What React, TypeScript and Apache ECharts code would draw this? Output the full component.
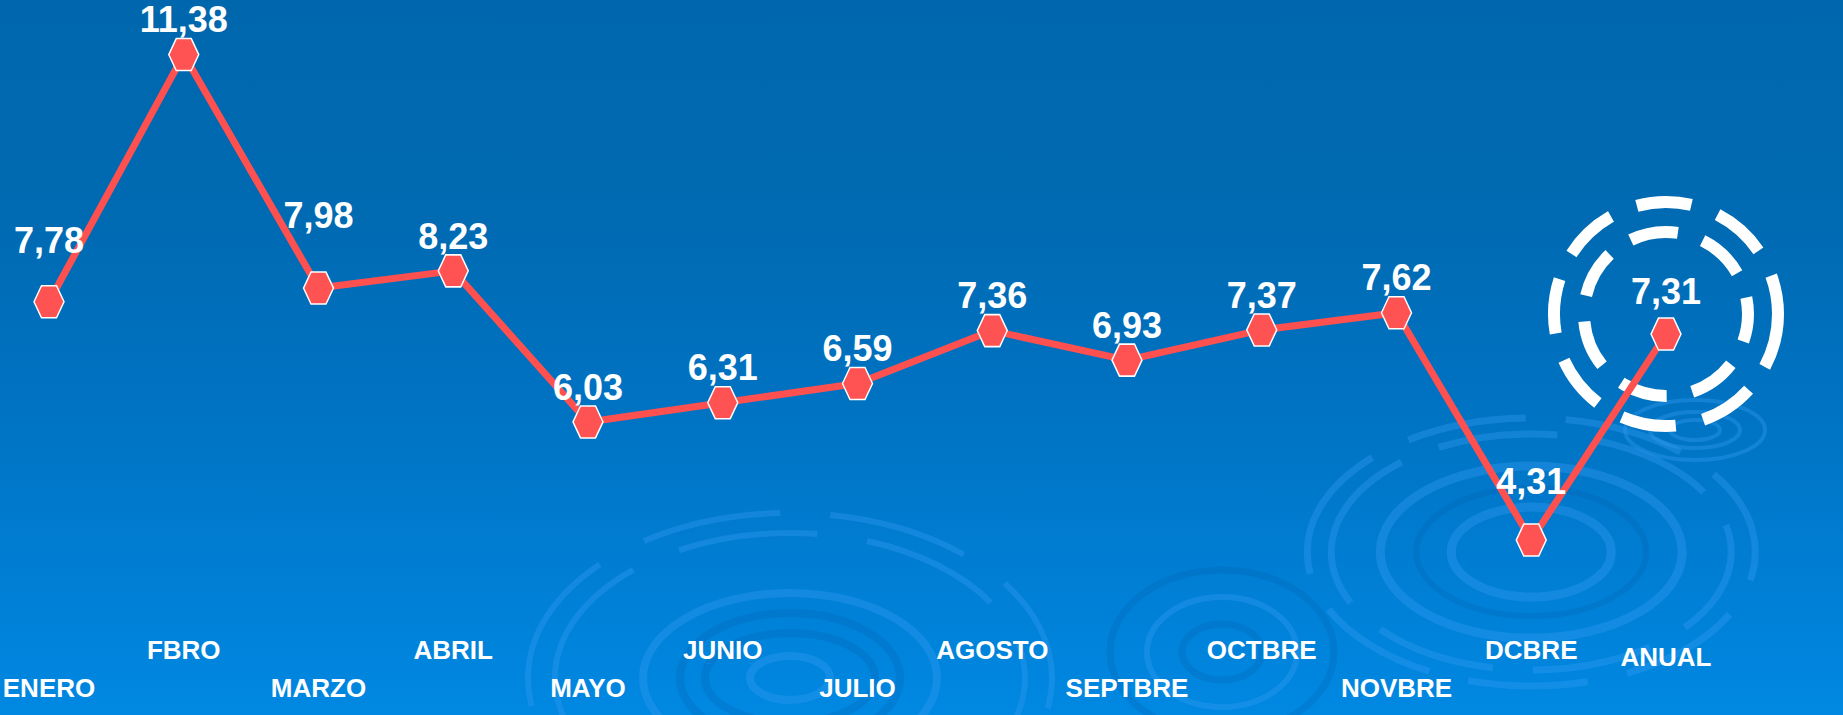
import React, { useEffect, useRef } from "react";
import * as echarts from "echarts";

// Categories (x axis) and the monthly rates written on the chart
const months = [
  "ENERO", "FBRO", "MARZO", "ABRIL", "MAYO", "JUNIO", "JULIO",
  "AGOSTO", "SEPTBRE", "OCTBRE", "NOVBRE", "DCBRE", "ANUAL",
];
const rates = [7.78, 11.38, 7.98, 8.23, 6.03, 6.31, 6.59, 7.36, 6.93, 7.37, 7.62, 4.31, 7.31];

// hidden value-axis range
const yMin = 3;
const yMax = 12;

const W = 1843;
const H = 715;
const FONT = "'Liberation Sans', Arial, 'DejaVu Sans', sans-serif";

export default function App() {
  const ref = useRef<HTMLDivElement>(null);

  useEffect(() => {
    document.body.style.margin = "0";
    const chart = echarts.init(ref.current!, null, { renderer: "svg", width: W, height: H });
    const last = months.length - 1;
    const labelLift: Record<number, number> = { 0: 26, 2: 38, 11: 24, 12: 8 };
    const hexagon = "path://M0,50 L25,0 L75,0 L100,50 L75,100 L25,100 Z";

    const catStyle = { fontSize: 26, fontWeight: "bold", color: "#ffffff", fontFamily: FONT, lineHeight: 30 };

    chart.setOption({
      animation: false,
      backgroundColor: "transparent",
      grid: { left: 49, right: 177, top: 12, bottom: 85, outerBoundsMode: "none" },
      xAxis: {
        type: "category",
        data: months,
        boundaryGap: false,
        axisLine: { show: false },
        axisTick: { show: false },
        splitLine: { show: false },
        axisLabel: {
          interval: 0,
          margin: 5,
          formatter: (v: string, i: number) =>
            i === last ? `{an|${v}}` : i % 2 === 1 ? `{hi|${v}}` : `{lo|${v}}`,
          rich: {
            hi: { ...catStyle },
            lo: { ...catStyle, padding: [76, 0, 0, 0] },
            an: { ...catStyle, padding: [14, 0, 0, 0] },
          },
        },
      },
      yAxis: { type: "value", min: yMin, max: yMax, show: false, splitLine: { show: false } },
      series: [
        {
          type: "line",
          z: 5,
          data: rates.map((v, i) => ({
            value: v,
            label: labelLift[i] !== undefined ? { distance: labelLift[i] } : undefined,
          })),
          symbol: hexagon,
          symbolSize: [30, 32],
          showAllSymbol: true,
          lineStyle: { color: "#ff5050", width: 7 },
          itemStyle: { color: "#ff5252", borderColor: "#ffffff", borderWidth: 1.5 },
          label: {
            show: true,
            position: "top",
            distance: 0,
            color: "#ffffff",
            fontSize: 36,
            fontWeight: "bold",
            fontFamily: FONT,
            formatter: (p: any) => Number(p.value).toFixed(2).replace(".", ","),
          },
        },
      ],
    });

    const ripple = (cx: number, cy: number, rings: number[][], color: string, width: number, dash?: number[]) =>
      rings.map(([rx, ry]) => ({
        type: "ellipse",
        silent: true,
        z: 0,
        shape: { cx, cy, rx, ry },
        style: { fill: "none", stroke: color, lineWidth: width, lineDash: dash },
      }));

    const [ax, ay] = chart.convertToPixel({ seriesIndex: 0 }, [last, rates[last]]) as number[];
    const [dx, dy] = chart.convertToPixel({ seriesIndex: 0 }, [last - 1, rates[last - 1]]) as number[];

    const light = "rgba(50,155,242,0.38)";
    const dark = "rgba(0,92,170,0.22)";

    chart.setOption({
      graphic: [
        // ripple around DCBRE
        ...ripple(dx, dy + 12, [[80, 45], [151, 86]], light, 9),
        ...ripple(dx, dy + 12, [[115, 64]], dark, 6),
        ...ripple(dx, dy + 12, [[200, 118], [224, 134]], light, 7, [120, 40]),
        // ripple near JULIO
        ...ripple(790, 678, [[40, 22], [147, 85]], light, 8),
        ...ripple(790, 678, [[85, 45], [110, 65]], dark, 8),
        ...ripple(790, 678, [[235, 145], [262, 165]], light, 6, [140, 50]),
        // ripple near SEPTBRE / OCTBRE
        ...ripple(1222, 652, [[40, 28], [112, 82]], dark, 7),
        ...ripple(1222, 652, [[75, 55]], light, 6),
        // small ripple under ANUAL
        ...ripple(ax + 29, ay + 96, [[25, 10], [45, 18], [70, 30]], light, 4),
        // dashed rings around ANUAL
        {
          type: "circle",
          silent: true,
          z: 1,
          shape: { cx: ax, cy: ay - 20, r: 112 },
          style: { fill: "none", stroke: "#ffffff", lineWidth: 12, lineDash: [55, 28] },
        },
        {
          type: "circle",
          silent: true,
          z: 1,
          shape: { cx: ax, cy: ay - 20, r: 82 },
          style: { fill: "none", stroke: "#ffffff", lineWidth: 12, lineDash: [48, 26], lineDashOffset: 20 },
        },
      ],
    });

    return () => chart.dispose();
  }, []);

  return (
    <div
      ref={ref}
      style={{
        width: W,
        height: H,
        background:
          "linear-gradient(to bottom, #0067ad 0%, #006ab2 30%, #0073c3 58%, #007dd2 78%, #0088e2 100%)",
      }}
    />
  );
}
